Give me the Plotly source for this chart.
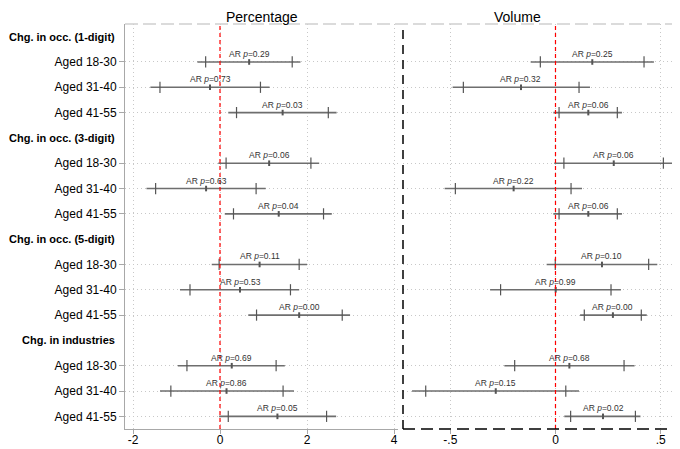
import plotly.graph_objects as go

# ---------------- data ----------------
groups = ["Chg. in occ. (1-digit)", "Chg. in occ. (3-digit)",
          "Chg. in occ. (5-digit)", "Chg. in industries"]
ages = ["Aged 18-30", "Aged 31-40", "Aged 41-55"]

pct_est  = [0.67, -0.23, 1.44, 1.13, -0.32, 1.35, 0.91, 0.46, 1.82, 0.27, 0.15, 1.32]
pct_lo95 = [-0.52, -1.60, 0.19, -0.04, -1.69, 0.11, -0.19, -0.92, 0.65, -0.97, -1.38, -0.02]
pct_hi95 = [1.85, 1.14, 2.68, 2.28, 1.05, 2.57, 2.00, 1.82, 2.99, 1.49, 1.70, 2.67]
pct_lo90 = [-0.33, -1.38, 0.38, 0.14, -1.48, 0.31, -0.02, -0.69, 0.84, -0.76, -1.13, 0.19]
pct_hi90 = [1.66, 0.93, 2.49, 2.09, 0.83, 2.38, 1.82, 1.62, 2.81, 1.29, 1.45, 2.45]
pct_p    = ["0.29", "0.73", "0.03", "0.06", "0.63", "0.04", "0.11", "0.53", "0.00", "0.69", "0.86", "0.05"]

vol_est  = [0.175, -0.164, 0.156, 0.277, -0.199, 0.156, 0.221, 0.001, 0.273, 0.066, -0.284, 0.226]
vol_lo95 = [-0.118, -0.489, -0.010, -0.006, -0.527, -0.010, -0.042, -0.311, 0.117, -0.243, -0.682, 0.042]
vol_hi95 = [0.468, 0.164, 0.316, 0.560, 0.126, 0.316, 0.484, 0.311, 0.434, 0.376, 0.112, 0.404]
vol_lo90 = [-0.072, -0.438, 0.017, 0.040, -0.476, 0.017, -0.001, -0.261, 0.137, -0.194, -0.617, 0.072]
vol_hi90 = [0.421, 0.112, 0.294, 0.513, 0.074, 0.294, 0.443, 0.264, 0.408, 0.326, 0.049, 0.380]
vol_p    = ["0.25", "0.32", "0.06", "0.06", "0.22", "0.06", "0.10", "0.99", "0.00", "0.68", "0.15", "0.02"]

pct_ticks = [-2, 0, 2, 4]
pct_ticktext = ["-2", "0", "2", "4"]
vol_ticks = [-0.5, 0, 0.5]
vol_ticktext = ["-.5", "0", ".5"]

# ---------------- layout helpers ----------------
# the page body has an 8px margin, so the figure is sized to fit the window
W, H = 672, 441
T, B = 16, 20
PH = H - T - B
FONT = "Liberation Sans, Arial, sans-serif"
header_slots = [4 * g for g in range(len(groups))]
row_slots = [4 * g + 1 + a for g in range(len(groups)) for a in range(len(ages))]
row_labels = [ages[a] for g in range(len(groups)) for a in range(len(ages))]

LINE_C = "#6e6e6e"
TICK_C = "#555555"
GRID_C = "#c8c8c8"
AXIS_C = "#a8a8a8"
GRID_DASH = "1px,3px"

fig = go.Figure()


def add_panel(est, lo95, hi95, lo90, hi90, pvals, xa, ya):
    fig.add_trace(go.Scatter(
        x=est, y=row_slots, mode="markers", xaxis=xa, yaxis=ya,
        marker=dict(symbol="line-ns", size=4, color=TICK_C,
                    line=dict(color=TICK_C, width=2)),
        error_x=dict(type="data", symmetric=False,
                     array=[h - e for h, e in zip(hi95, est)],
                     arrayminus=[e - l for e, l in zip(est, lo95)],
                     width=0, thickness=1.6, color=LINE_C),
        hoverinfo="skip", showlegend=False))
    fig.add_trace(go.Scatter(
        x=list(lo90) + list(hi90), y=row_slots + row_slots, mode="markers",
        xaxis=xa, yaxis=ya,
        marker=dict(symbol="line-ns", size=8, color=TICK_C,
                    line=dict(color=TICK_C, width=1.2)),
        hoverinfo="skip", showlegend=False))
    for e, s, p in zip(est, row_slots, pvals):
        fig.add_annotation(x=e, y=s, xref=xa, yref=ya, yshift=8,
                           text="AR <i>p</i>=" + p, showarrow=False,
                           font=dict(size=8.5, color="#333333", family=FONT))


add_panel(pct_est, pct_lo95, pct_hi95, pct_lo90, pct_hi90, pct_p, "x", "y")
add_panel(vol_est, vol_lo95, vol_hi95, vol_lo90, vol_hi90, vol_p, "x2", "y2")

x1_dom = [117 / W, 390 / W]
x2_dom = [395 / W, 1.0]

axis_common = dict(showgrid=True, gridcolor=GRID_C, griddash=GRID_DASH, gridwidth=1,
                   zeroline=False, automargin=False)

fig.update_layout(
    width=W, height=H,
    margin=dict(l=0, r=0, t=T, b=B, autoexpand=False),
    paper_bgcolor="white", plot_bgcolor="white",
    font=dict(family=FONT, color="black"),
    showlegend=False,
    xaxis=dict(domain=x1_dom, anchor="y", range=[-2.184, 4.092],
               tickvals=pct_ticks, ticktext=pct_ticktext,
               showline=True, linecolor=AXIS_C, linewidth=1,
               ticks="outside", ticklen=4, tickcolor=AXIS_C, ticklabelstandoff=-4,
               tickfont=dict(size=12, color="black"), **axis_common),
    xaxis2=dict(domain=x2_dom, anchor="y2", range=[-0.725, 0.592],
                tickvals=vol_ticks, ticktext=vol_ticktext, showline=False,
                ticks="outside", ticklen=4, tickcolor=AXIS_C, ticklabelstandoff=-4,
                tickfont=dict(size=12, color="black"), **axis_common),
    yaxis=dict(domain=[0, 1], anchor="x", range=[15.5, -0.5],
               tickvals=row_slots, ticktext=row_labels,
               showline=True, linecolor=AXIS_C, linewidth=1,
               ticks="outside", ticklen=5, tickcolor=AXIS_C,
               tickfont=dict(size=12, color="black"), **axis_common),
    yaxis2=dict(domain=[0, 1], anchor="x2", matches="y", range=[15.5, -0.5],
                tickvals=row_slots, showticklabels=False,
                showline=False, ticks="", **axis_common),
)

# group headers
for g, s in zip(groups, header_slots):
    fig.add_annotation(x=108 / W, xref="paper", xanchor="right", y=s, yref="y",
                       text="<b>" + g + "</b>", showarrow=False, borderpad=0,
                       font=dict(size=11, color="black", family=FONT))

# panel titles (anchored at the very top of the figure)
title_y = (H - B) / PH
fig.add_annotation(x=(x1_dom[0] + x1_dom[1]) / 2, y=title_y, xref="paper", yref="paper",
                   text="Percentage", showarrow=False, yanchor="top", borderpad=0,
                   font=dict(size=14, color="black", family=FONT))
fig.add_annotation(x=(x2_dom[0] + x2_dom[1]) / 2, y=title_y, xref="paper", yref="paper",
                   text="Volume", showarrow=False, yanchor="top", borderpad=0,
                   font=dict(size=14, color="black", family=FONT))

# reference lines at zero
for xr in ("x", "x2"):
    fig.add_shape(type="line", xref=xr, yref="paper", x0=0, x1=0, y0=0, y1=1,
                  line=dict(color="#ff0000", width=1.2, dash="4px,3px"), layer="above")

# top dashed border
fig.add_shape(type="line", xref="paper", yref="paper", x0=x1_dom[0], x1=1, y0=1, y1=1,
              line=dict(color="#cfcfcf", width=1.3, dash="13px,5px"))
# right panel dashed frame (left and bottom)
fig.add_shape(type="line", xref="paper", yref="paper", x0=x2_dom[0], x1=x2_dom[0],
              y0=0, y1=1 - 6 / PH,
              line=dict(color="black", width=1.5, dash="9px,6px"))
fig.add_shape(type="line", xref="paper", yref="paper", x0=x2_dom[0], x1=1, y0=0, y1=0,
              line=dict(color="black", width=1.3, dash="12px,6px"))

fig.write_html("out.html")
